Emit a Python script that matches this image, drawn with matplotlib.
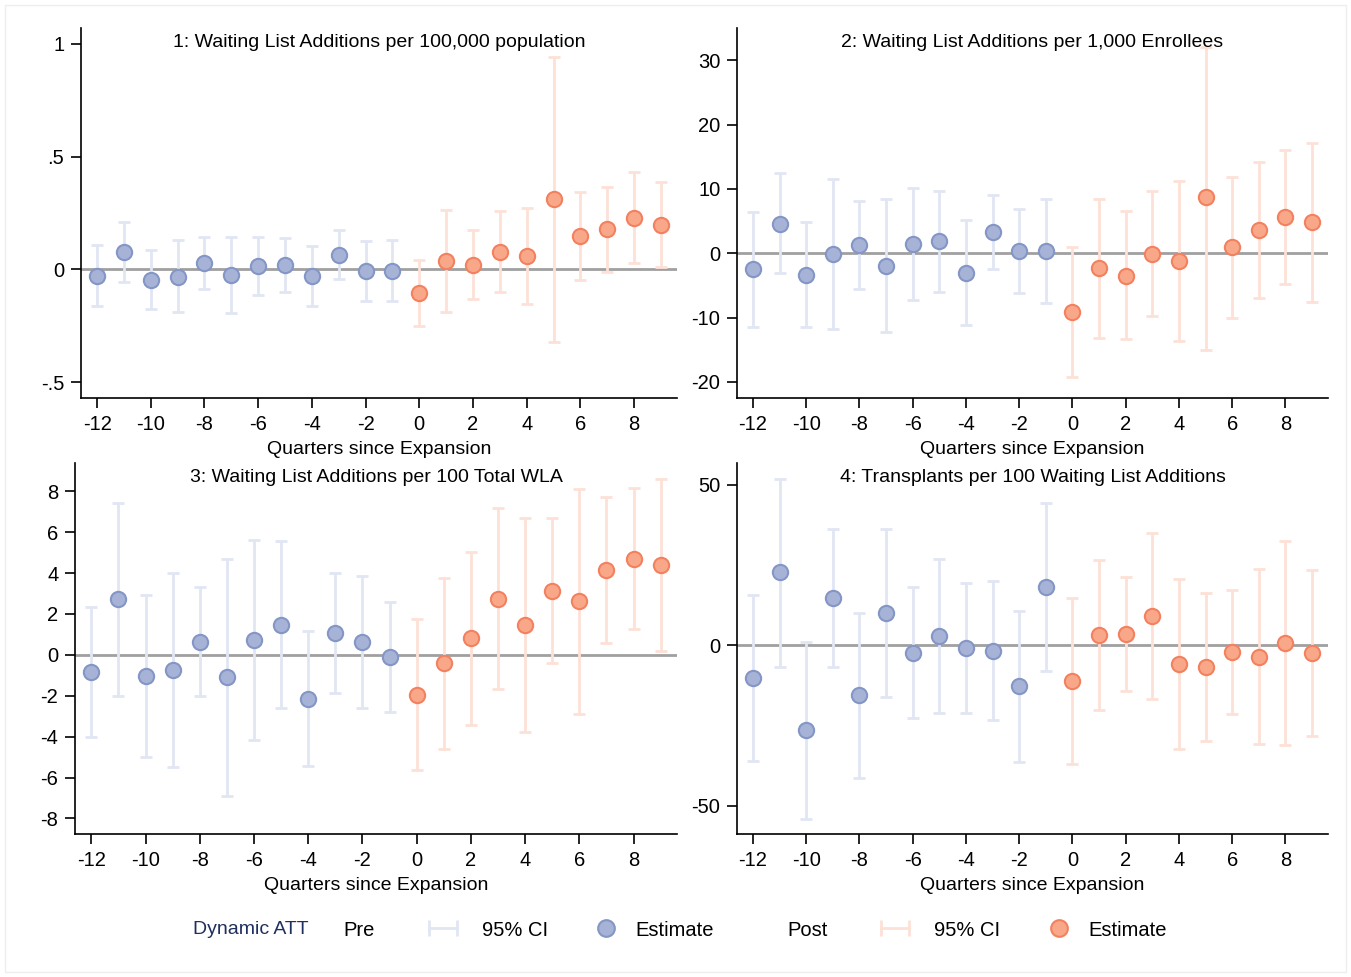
import numpy as np
import matplotlib
matplotlib.use("Agg")
import matplotlib.pyplot as plt
import matplotlib.patches as mpatches
from matplotlib.lines import Line2D
from matplotlib.legend_handler import HandlerLine2D

plt.rcParams['font.family'] = ['Liberation Sans', 'DejaVu Sans']

quarters = list(range(-12, 10))

# panel 1: per 100,000 population
est1 = [-0.03, 0.078, -0.047, -0.032, 0.027, -0.025, 0.015, 0.02, -0.03, 0.063, -0.006, -0.006,
        -0.106, 0.037, 0.019, 0.078, 0.059, 0.31, 0.147, 0.177, 0.23, 0.196]
hi1 = [0.107, 0.21, 0.085, 0.13, 0.145, 0.145, 0.142, 0.139, 0.103, 0.174, 0.125, 0.13,
       0.041, 0.263, 0.174, 0.258, 0.27, 0.941, 0.344, 0.366, 0.432, 0.386]
lo1 = [-0.162, -0.055, -0.177, -0.19, -0.088, -0.195, -0.112, -0.1, -0.162, -0.044, -0.139, -0.139,
       -0.251, -0.187, -0.131, -0.099, -0.153, -0.32, -0.047, -0.01, 0.03, 0.009]

# panel 2: per 1,000 enrollees
est2 = [-2.5, 4.6, -3.4, -0.1, 1.2, -2.0, 1.4, 1.9, -3.0, 3.3, 0.4, 0.4,
        -9.1, -2.3, -3.5, -0.1, -1.2, 8.8, 0.9, 3.6, 5.6, 4.8]
hi2 = [6.4, 12.4, 4.9, 11.6, 8.1, 8.4, 10.1, 9.7, 5.2, 9.0, 6.9, 8.4,
       0.9, 8.4, 6.5, 9.7, 11.3, 32.0, 11.9, 14.2, 16.0, 17.2]
lo2 = [-11.4, -3.0, -11.5, -11.8, -5.6, -12.3, -7.2, -6.0, -11.2, -2.4, -6.2, -7.7,
       -19.2, -13.2, -13.4, -9.8, -13.6, -15.0, -10.1, -6.9, -4.8, -7.6]

# panel 3: per 100 total WLA
est3 = [-0.85, 2.71, -1.03, -0.75, 0.62, -1.09, 0.73, 1.45, -2.14, 1.06, 0.64, -0.13,
        -1.94, -0.41, 0.82, 2.72, 1.45, 3.12, 2.61, 4.14, 4.7, 4.39]
hi3 = [2.33, 7.42, 2.95, 4.0, 3.3, 4.7, 5.63, 5.55, 1.19, 4.01, 3.85, 2.56,
       1.76, 3.77, 5.04, 7.16, 6.67, 6.67, 8.11, 7.7, 8.18, 8.6]
lo3 = [-4.0, -2.0, -4.98, -5.5, -2.02, -6.88, -4.16, -2.6, -5.45, -1.88, -2.59, -2.79,
       -5.63, -4.58, -3.41, -1.68, -3.75, -0.41, -2.87, 0.57, 1.26, 0.18]

# panel 4: transplants per 100 WLA
est4 = [-10.2, 22.7, -26.4, 14.7, -15.6, 10.2, -2.3, 2.9, -0.8, -1.7, -12.8, 18.1,
        -11.2, 3.2, 3.5, 9.0, -5.9, -6.9, -2.1, -3.5, 0.7, -2.3]
hi4 = [15.7, 51.8, 1.1, 36.1, 10.1, 36.3, 18.1, 26.9, 19.3, 19.9, 10.7, 44.4,
       14.7, 26.5, 21.3, 34.9, 20.5, 16.2, 17.3, 23.8, 32.5, 23.5]
lo4 = [-36.0, -6.7, -54.1, -6.9, -41.3, -16.0, -22.7, -21.0, -21.0, -23.3, -36.4, -8.1,
       -36.9, -20.1, -14.2, -16.8, -32.2, -29.8, -21.5, -30.7, -31.0, -28.2]

titles = ["1: Waiting List Additions per 100,000 population",
          "2: Waiting List Additions per 1,000 Enrollees",
          "3: Waiting List Additions per 100 Total WLA",
          "4: Transplants per 100 Waiting List Additions"]
yticks = [[-0.5, 0, 0.5, 1], [-20, -10, 0, 10, 20, 30],
          [-8, -6, -4, -2, 0, 2, 4, 6, 8], [-50, 0, 50]]
ytick_labels = [["-.5", "0", ".5", "1"], ["-20", "-10", "0", "10", "20", "30"],
                ["-8", "-6", "-4", "-2", "0", "2", "4", "6", "8"], ["-50", "0", "50"]]
ylims = [(-0.57, 1.07), (-22.5, 35), (-8.76, 9.38), (-58.8, 56.8)]
xticks = list(range(-12, 10, 2))

pre_ci = '#e1e6f3'
pre_face = '#a6b3d6'
pre_edge = '#8496c6'
post_ci = '#fde1d6'
post_face = '#f8a888'
post_edge = '#f3815f'

fig = plt.figure(figsize=(13.51, 9.77), dpi=100)
W, H = 1351, 977
# axes boxes in pixels: left, top, right, bottom
boxes = [(81, 28, 677, 398), (737, 28, 1328, 398),
         (75, 463, 677, 834), (737, 463, 1328, 834)]
panels = [(est1, lo1, hi1), (est2, lo2, hi2), (est3, lo3, hi3), (est4, lo4, hi4)]

q = np.array(quarters)
pre = q < 0
for i, (box, (est, lo, hi)) in enumerate(zip(boxes, panels)):
    l, t, r, b = box
    ax = fig.add_axes([l / W, 1 - b / H, (r - l) / W, (b - t) / H])
    est, lo, hi = np.array(est), np.array(lo), np.array(hi)
    ax.axhline(0, color='#a0a0a0', lw=2, zorder=1)
    for mask, cic, fc, ec in [(pre, pre_ci, pre_face, pre_edge), (~pre, post_ci, post_face, post_edge)]:
        ax.errorbar(q[mask], est[mask], yerr=[est[mask] - lo[mask], hi[mask] - est[mask]],
                    fmt='none', ecolor=cic, elinewidth=2, capsize=4.5, capthick=2, zorder=2)
        ax.plot(q[mask], est[mask], 'o', ms=11, mfc=fc, mec=ec, mew=1.5, zorder=3)
    ax.set_xlim(-12.6, 9.6)
    ax.set_ylim(*ylims[i])
    ax.set_xticks(xticks)
    ax.set_xticklabels([str(x) for x in xticks])
    ax.set_yticks(yticks[i])
    ax.set_yticklabels(ytick_labels[i])
    ax.tick_params(axis='both', labelsize=14.5, length=7, width=1.2, color='black', pad=5)
    ax.spines['top'].set_visible(False)
    ax.spines['right'].set_visible(False)
    ax.spines['left'].set_linewidth(1.2)
    ax.spines['bottom'].set_linewidth(1.2)
    ax.set_xlabel('Quarters since Expansion', fontsize=14, labelpad=5)
    ax.text(0.5, 0.985, titles[i], transform=ax.transAxes, ha='center', va='top', fontsize=14)

# legend row
ly = 1 - 930 / H
fs = 14.5
em = fs * 100 / 72
fig.text(193 / W, ly, 'Dynamic ATT', color='#1f2f5f', fontsize=14, va='center', ha='left')
fig.text(343 / W, ly, 'Pre', fontsize=fs, va='center', ha='left')
fig.text(787 / W, ly, 'Post', fontsize=fs, va='center', ha='left')

ci_pre = Line2D([], [], color=pre_ci, lw=2, marker='|', ms=12, mew=2)
ci_post = Line2D([], [], color=post_ci, lw=2, marker='|', ms=12, mew=2)
pt_pre = Line2D([], [], ls='none', marker='o', ms=12, mfc=pre_face, mec=pre_edge, mew=1.5)
pt_post = Line2D([], [], ls='none', marker='o', ms=12, mfc=post_face, mec=post_edge, mew=1.5)

# (handle, label, handle start px, handle end px, text start px)
entries = [(ci_pre, '95% CI', 423, 463, 482), (pt_pre, 'Estimate', 596, 616, 635),
           (ci_post, '95% CI', 875, 915, 934), (pt_post, 'Estimate', 1049, 1069, 1088)]
for h, lab, x0, x1, xt in entries:
    npts = 2 if h in (ci_pre, ci_post) else 1
    leg = fig.legend([h], [lab], loc='center left', bbox_to_anchor=(x0 / W, ly), frameon=False,
                     fontsize=fs, borderpad=0, borderaxespad=0, handlelength=(x1 - x0) / em,
                     handletextpad=(xt - x1) / em, handler_map={h: HandlerLine2D(numpoints=npts)})

fig.patches.append(mpatches.Rectangle((5 / W, 5 / H), 1 - 10 / W, 1 - 10 / H, transform=fig.transFigure,
                                      fill=False, edgecolor='#eeeeee', lw=1))

fig.savefig('out.png', dpi=100, facecolor='white')
